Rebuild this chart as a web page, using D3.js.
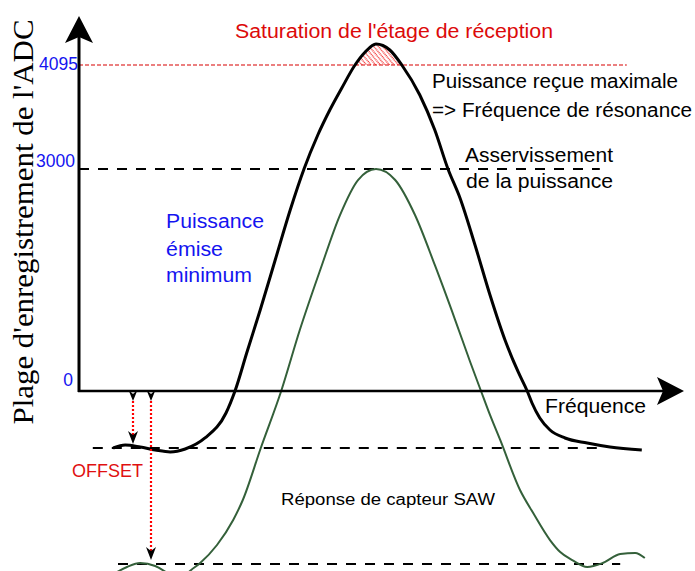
<!DOCTYPE html>
<html><head><meta charset="utf-8">
<script src="https://cdn.jsdelivr.net/npm/d3@7"></script>
<style>body{margin:0;background:#fff}svg{display:block}</style>
</head><body>
<svg id="c" width="695" height="571"></svg>
<script>
// ---------- DATA ----------
// Black curve: received power (ADC units) vs frequency (arbitrary units 0..100)
const recuFreq = [5.7,7.7,10.2,12.7,15.2,17.7,21,24.5,26,28,30.2,32.7,35.2,37.5,39.8,41.8,43.8,46,47.7,49.5,51.8,53.8,56.8,59.3,61.5,63.5,66,68.5,71,73.2,74.7,75.5,76.8,78.5,81,84.7,88.5,93.8];
const recuVal  = [-770,-730,-757,-797,-824,-784,-635,-297,0,527,1095,1770,2446,3000,3358,3621,3853,4095,4232,4316,4253,4095,3779,3411,3000,2608,1973,1297,689,257,0,-162,-365,-527,-635,-703,-757,-797];
// Green curve: SAW sensor response
const sawFreq = [5.5,8,10.2,12.7,15.2,16.8,18.5,20.2,23,25.7,27.3,30.3,33.7,36.8,40.2,43.5,46.5,49.5,52.7,56,59.3,62.7,65.2,67,68.5,70.2,73.5,75.7,78.5,80.2,82.2,84.7,87.3,90.2,92.7,94.3];
const sawVal  = [-2487,-2378,-2324,-2365,-2487,-2581,-2432,-2324,-2081,-1743,-1473,-770,0,824,1635,2378,2851,3000,2851,2378,1703,959,392,0,-324,-662,-1338,-1649,-2014,-2176,-2284,-2378,-2324,-2203,-2189,-2257];
// Reference levels (ADC units) and their frequency extents
const refLevels = [4095, 3000, -770, -2338];
const refStart  = [0, 0, 2.3, 6.5];
const refEnd    = [91.3, 86.8, 86.3, 90.2];
// Offset arrows
const offsetFreq = [9, 12];
const offsetTo   = [-770, -2338];
// Y ticks
const yTickValues = [0, 3000, 4095];
const yTickLabels = ["0", "3000", "4095"];
// Texts
const yTitle = "Plage d'enregistrement de l'ADC";
const xTitle = "Fréquence";
const satText = "Saturation de l'étage de réception";
const maxText = ["Puissance reçue maximale", "=> Fréquence de résonance"];
const asservText = ["Asservissement", "de la puissance"];
const minText = ["Puissance", "émise", "minimum"];
const offsetText = "OFFSET";
const sawText = "Réponse de capteur SAW";

// ---------- SCALES ----------
const x = d3.scaleLinear().domain([0, 100]).range([79, 679]);
const y = d3.scaleLinear().domain([0, 3000, 4095]).range([391, 169, 65]);

const svg = d3.select("#c");
const SANS = "'Liberation Sans', Arial, Helvetica, sans-serif";
const SERIF = "'Liberation Serif', 'Times New Roman', serif";

const defs = svg.append("defs");
const pat = defs.append("pattern").attr("id","hatch").attr("patternUnits","userSpaceOnUse")
  .attr("width",3.5).attr("height",3.5).attr("patternTransform","rotate(-40)");
pat.append("line").attr("x1",1).attr("x2",1).attr("y1",0).attr("y2",3.5)
  .attr("stroke","#f00000").attr("stroke-width",1.1).attr("stroke-dasharray","1,0.75");
defs.append("clipPath").attr("id","sat").append("rect")
  .attr("x",0).attr("y",0).attr("width",695).attr("height",y(4095));

const recu = recuFreq.map((f,i)=>({f, v: recuVal[i]}));
const saw = sawFreq.map((f,i)=>({f, v: sawVal[i]}));
const line = d3.line().x(d=>x(d.f)).y(d=>y(d.v)).curve(d3.curveMonotoneX);

// Reference lines
const refStyle = [
  {stroke:"#d80000", width:1.2, dash:"4,2"},
  {stroke:"#000", width:2, dash:"10,9"},
  {stroke:"#000", width:2, dash:"10,9"},
  {stroke:"#000", width:2, dash:"10,9"}
];
refLevels.forEach((lv,i)=>{
  svg.append("line").attr("x1",x(refStart[i])).attr("x2",x(refEnd[i]))
    .attr("y1",y(lv)).attr("y2",y(lv))
    .attr("stroke",refStyle[i].stroke).attr("stroke-width",refStyle[i].width)
    .attr("stroke-dasharray",refStyle[i].dash);
});

// Hatched saturation region
svg.append("path").attr("d", line(recu) + "Z").attr("fill","url(#hatch)")
  .attr("stroke","none").attr("clip-path","url(#sat)");

// Curves
svg.append("path").attr("d", line(saw)).attr("fill","none")
  .attr("stroke","#34603a").attr("stroke-width",2);
svg.append("path").attr("d", line(recu)).attr("fill","none")
  .attr("stroke","#000").attr("stroke-width",3).attr("stroke-linejoin","round");

// Axes
const x0 = x(0), y0 = y(0);
svg.append("line").attr("x1",x0).attr("x2",x0).attr("y1",y0+1).attr("y2",22)
  .attr("stroke","#000").attr("stroke-width",3);
svg.append("line").attr("x1",x0-1).attr("x2",676).attr("y1",y0).attr("y2",y0)
  .attr("stroke","#000").attr("stroke-width",2.5);
svg.append("path").attr("d",`M${x0},16L${x0+14},43L${x0},37L${x0-14},43Z`).attr("fill","#000");
svg.append("path").attr("d",`M684,${y0}L657,${y0-14}L663,${y0}L657,${y0+14}Z`).attr("fill","#000");

// Y ticks via d3 axis
const tickDy = {0:-10, 3000:-7, 4095:0};
const tickDx = {0:-6, 3000:-4, 4095:-1};
const ax = svg.append("g").attr("transform",`translate(${x0},0)`)
  .call(d3.axisLeft(y).tickValues(yTickValues).tickSize(0)
    .tickFormat((d,i)=>yTickLabels[i]));
ax.select(".domain").remove();
ax.selectAll("text").attr("font-family",SANS).attr("font-size",17.5).attr("fill","#1414f0")
  .attr("x",d=>tickDx[d]).attr("dy",null).attr("y",d=>tickDy[d])
  .attr("dominant-baseline","middle");

// Y title
svg.append("text").attr("transform","translate(33,222) rotate(-90)")
  .attr("text-anchor","middle").attr("font-family",SERIF).attr("font-size",30)
  .attr("textLength",405).attr("lengthAdjust","spacingAndGlyphs").attr("fill","#000").text(yTitle);

function txt(s, px, py, size, color, w){
  const t = svg.append("text").attr("x",px).attr("y",py).attr("font-family",SANS)
    .attr("font-size",size).attr("fill",color).text(s);
  if (w) t.attr("textLength",w).attr("lengthAdjust","spacingAndGlyphs");
  return t;
}
txt(satText, 235, 38, 19.5, "#dc0a0a", 318);
txt(maxText[0], 432, 88, 19.5, "#000", 246);
txt(maxText[1], 432, 117, 19.5, "#000", 260);
txt(asservText[0], 465, 162, 19.5, "#000", 148);
txt(asservText[1], 466, 188, 19.5, "#000", 147);
txt(minText[0], 166, 228, 20, "#1414f0", 98);
txt(minText[1], 166, 256, 20, "#1414f0", 57);
txt(minText[2], 166, 282, 20, "#1414f0", 86);
txt(xTitle, 545, 413, 19.5, "#000", 101);
txt(offsetText, 72, 477, 17.5, "#e01010", 71);
txt(sawText, 281, 505, 16, "#000", 214);

// Offset arrows
offsetFreq.forEach((f,i)=>{
  const ax_ = x(f);
  const tipTop = y0 + 10, tipEnd = y(offsetTo[i]) - 4;
  svg.append("line").attr("x1",ax_).attr("x2",ax_).attr("y1",tipTop).attr("y2",tipEnd-8)
    .attr("stroke","#ff0000").attr("stroke-width",2.2).attr("stroke-dasharray","2,2");
  svg.append("path").attr("d",`M${ax_},${tipTop}L${ax_-4.5},${tipTop-11}L${ax_},${tipTop-7}L${ax_+4.5},${tipTop-11}Z`).attr("fill","#000");
  svg.append("path").attr("d",`M${ax_},${tipEnd}L${ax_-5},${tipEnd-13}L${ax_},${tipEnd-9}L${ax_+5},${tipEnd-13}Z`).attr("fill","#000");
});
</script>
</body></html>
